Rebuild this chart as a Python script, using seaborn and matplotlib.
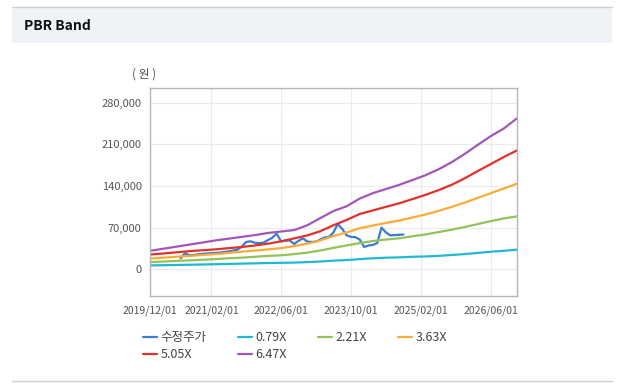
import pandas as pd
import matplotlib.pyplot as plt
import matplotlib.dates as mdates
from matplotlib.patches import Rectangle
from matplotlib.lines import Line2D
from matplotlib.ticker import FuncFormatter
import seaborn as sns

# quarterly band points, monthly adjusted price
band_dates = pd.date_range("2019-12-01", periods=29, freq="3MS")
price_dates = pd.date_range("2020-07-01", periods=52, freq="MS")

price = [18500, 27000, 23500, 24000, 25000, 26000, 26500, 27000, 27500, 28000,
         29000, 30000, 31500, 33000, 38000, 46000, 47000, 44500, 44000, 45000,
         49000, 53000, 60000, 47000, 48000, 48500, 42500, 48000, 52000, 46500,
         46000, 46500, 50000, 53500, 54500, 62000, 76000, 68000, 57000, 54500,
         54000, 50000, 37500, 40000, 41000, 44000, 70000, 62000, 57000, 57500,
         58000, 58500]

band_079 = [6500, 6800, 7200, 7600, 8000, 8500, 9000, 9500, 10000, 10500,
            10800, 11200, 12000, 13000, 14500, 15500, 17000, 18500, 19500, 20000,
            21000, 21500, 22500, 24000, 25500, 27500, 29500, 31000, 33000]
band_221 = [12000, 13000, 14000, 15000, 16000, 17000, 18500, 19500, 21000, 22500,
            23500, 25500, 28000, 31500, 36000, 40000, 44000, 47500, 50000, 52000,
            55500, 58500, 62500, 66500, 71000, 76000, 81000, 85500, 89000]
band_363 = [18000, 19500, 21000, 22500, 24000, 25500, 27500, 29500, 31500, 33500,
            35500, 39000, 43000, 48500, 56000, 62000, 69000, 73500, 78000, 82000,
            87000, 92000, 98000, 105000, 112000, 120000, 128000, 136000, 144000]
band_505 = [24700, 26500, 28500, 30500, 32000, 33500, 35500, 37500, 40000, 43000,
            47000, 52000, 57000, 64000, 74000, 83000, 93000, 99000, 105000, 111000,
            118000, 125000, 133000, 142000, 153000, 165000, 177000, 189000, 200000]
band_647 = [31000, 34500, 38000, 41500, 45000, 48500, 51500, 54500, 57500, 61000,
            63500, 66000, 74000, 86000, 98000, 106000, 119000, 128000, 135000, 142000,
            150000, 158000, 168000, 180000, 194000, 209000, 224000, 237000, 254000]

bands = [band_079, band_221, band_363, band_505, band_647]
band_labels = ["0.79X", "2.21X", "3.63X", "5.05X", "6.47X"]
band_colors = ["#1fb9d2", "#93c25a", "#fbab35", "#e2302b", "#a257b8"]
price_color = "#3a7bd5"

x_ticks = ["2019-12-01", "2021-02-01", "2022-06-01", "2023-10-01", "2025-02-01", "2026-06-01"]
y_ticks = [0, 70000, 140000, 210000, 280000]

sns.set_style("white")
plt.rcParams['font.family'] = ['Noto Sans CJK KR', 'DejaVu Sans']

fig = plt.figure(figsize=(6.22, 3.88), dpi=100)
W, H = 622, 388

# header strip
fig.add_artist(Rectangle((12 / W, 1 - 43 / H), 600 / W, 36 / H, transform=fig.transFigure,
                         facecolor="#eff2f7", edgecolor="none", zorder=0))
fig.add_artist(Line2D([12 / W, 612 / W], [1 - 7 / H] * 2, color="#cfcfcf", lw=1))
fig.add_artist(Line2D([12 / W, 612 / W], [1 - 381 / H] * 2, color="#cfcfcf", lw=1))
fig.text(24 / W, 1 - 26 / H, "PBR Band", fontsize=10, fontweight="bold",
         va="center", ha="left", color="#111111")

ax = fig.add_axes([150 / W, 1 - 296 / H, 367 / W, 208 / H])

sns.lineplot(x=price_dates, y=price, ax=ax, color=price_color, lw=1.6, label="수정주가")
for vals, lab, col in zip(bands, band_labels, band_colors):
    sns.lineplot(x=band_dates, y=vals, ax=ax, color=col, lw=1.6, label=lab)

ax.set_xlim(pd.Timestamp("2019-12-01"), pd.Timestamp("2026-12-01"))
ax.set_ylim(-45000, 305000)
ax.set_xticks(pd.to_datetime(x_ticks))
ax.xaxis.set_major_formatter(mdates.DateFormatter("%Y/%m/%d"))
ax.set_yticks(y_ticks)
ax.yaxis.set_major_formatter(FuncFormatter(lambda v, p: f"{int(v):,}"))
ax.tick_params(axis="both", length=0, colors="#555555")
ax.tick_params(axis="y", labelsize=8, pad=6)
ax.tick_params(axis="x", labelsize=7.5, pad=7)
ax.grid(True, color="#ebebeb", lw=0.8)
ax.set_axisbelow(True)
for s in ax.spines.values():
    s.set_color("#b5b5b5")
    s.set_linewidth(1)
ax.set_xlabel("")
ax.set_ylabel("")

fig.text(144 / W, 1 - 74 / H, "( 원 )", fontsize=8.5, color="#555555", ha="center", va="center")

handles, labels = ax.get_legend_handles_labels()
ax.get_legend().remove()
# legend fills column-wise, reorder so it reads row-wise
order = [0, 4, 1, 5, 2, 3]
fig.legend([handles[i] for i in order], [labels[i] for i in order],
           loc="upper left", bbox_to_anchor=(143 / W, 1 - 331 / H),
           ncol=4, frameon=False, fontsize=9, handlelength=1.1, handletextpad=0.3,
           columnspacing=2.5, labelspacing=0.35, borderaxespad=0, borderpad=0,
           labelcolor="#444444")

fig.savefig("out.png", dpi=100, facecolor="white")
